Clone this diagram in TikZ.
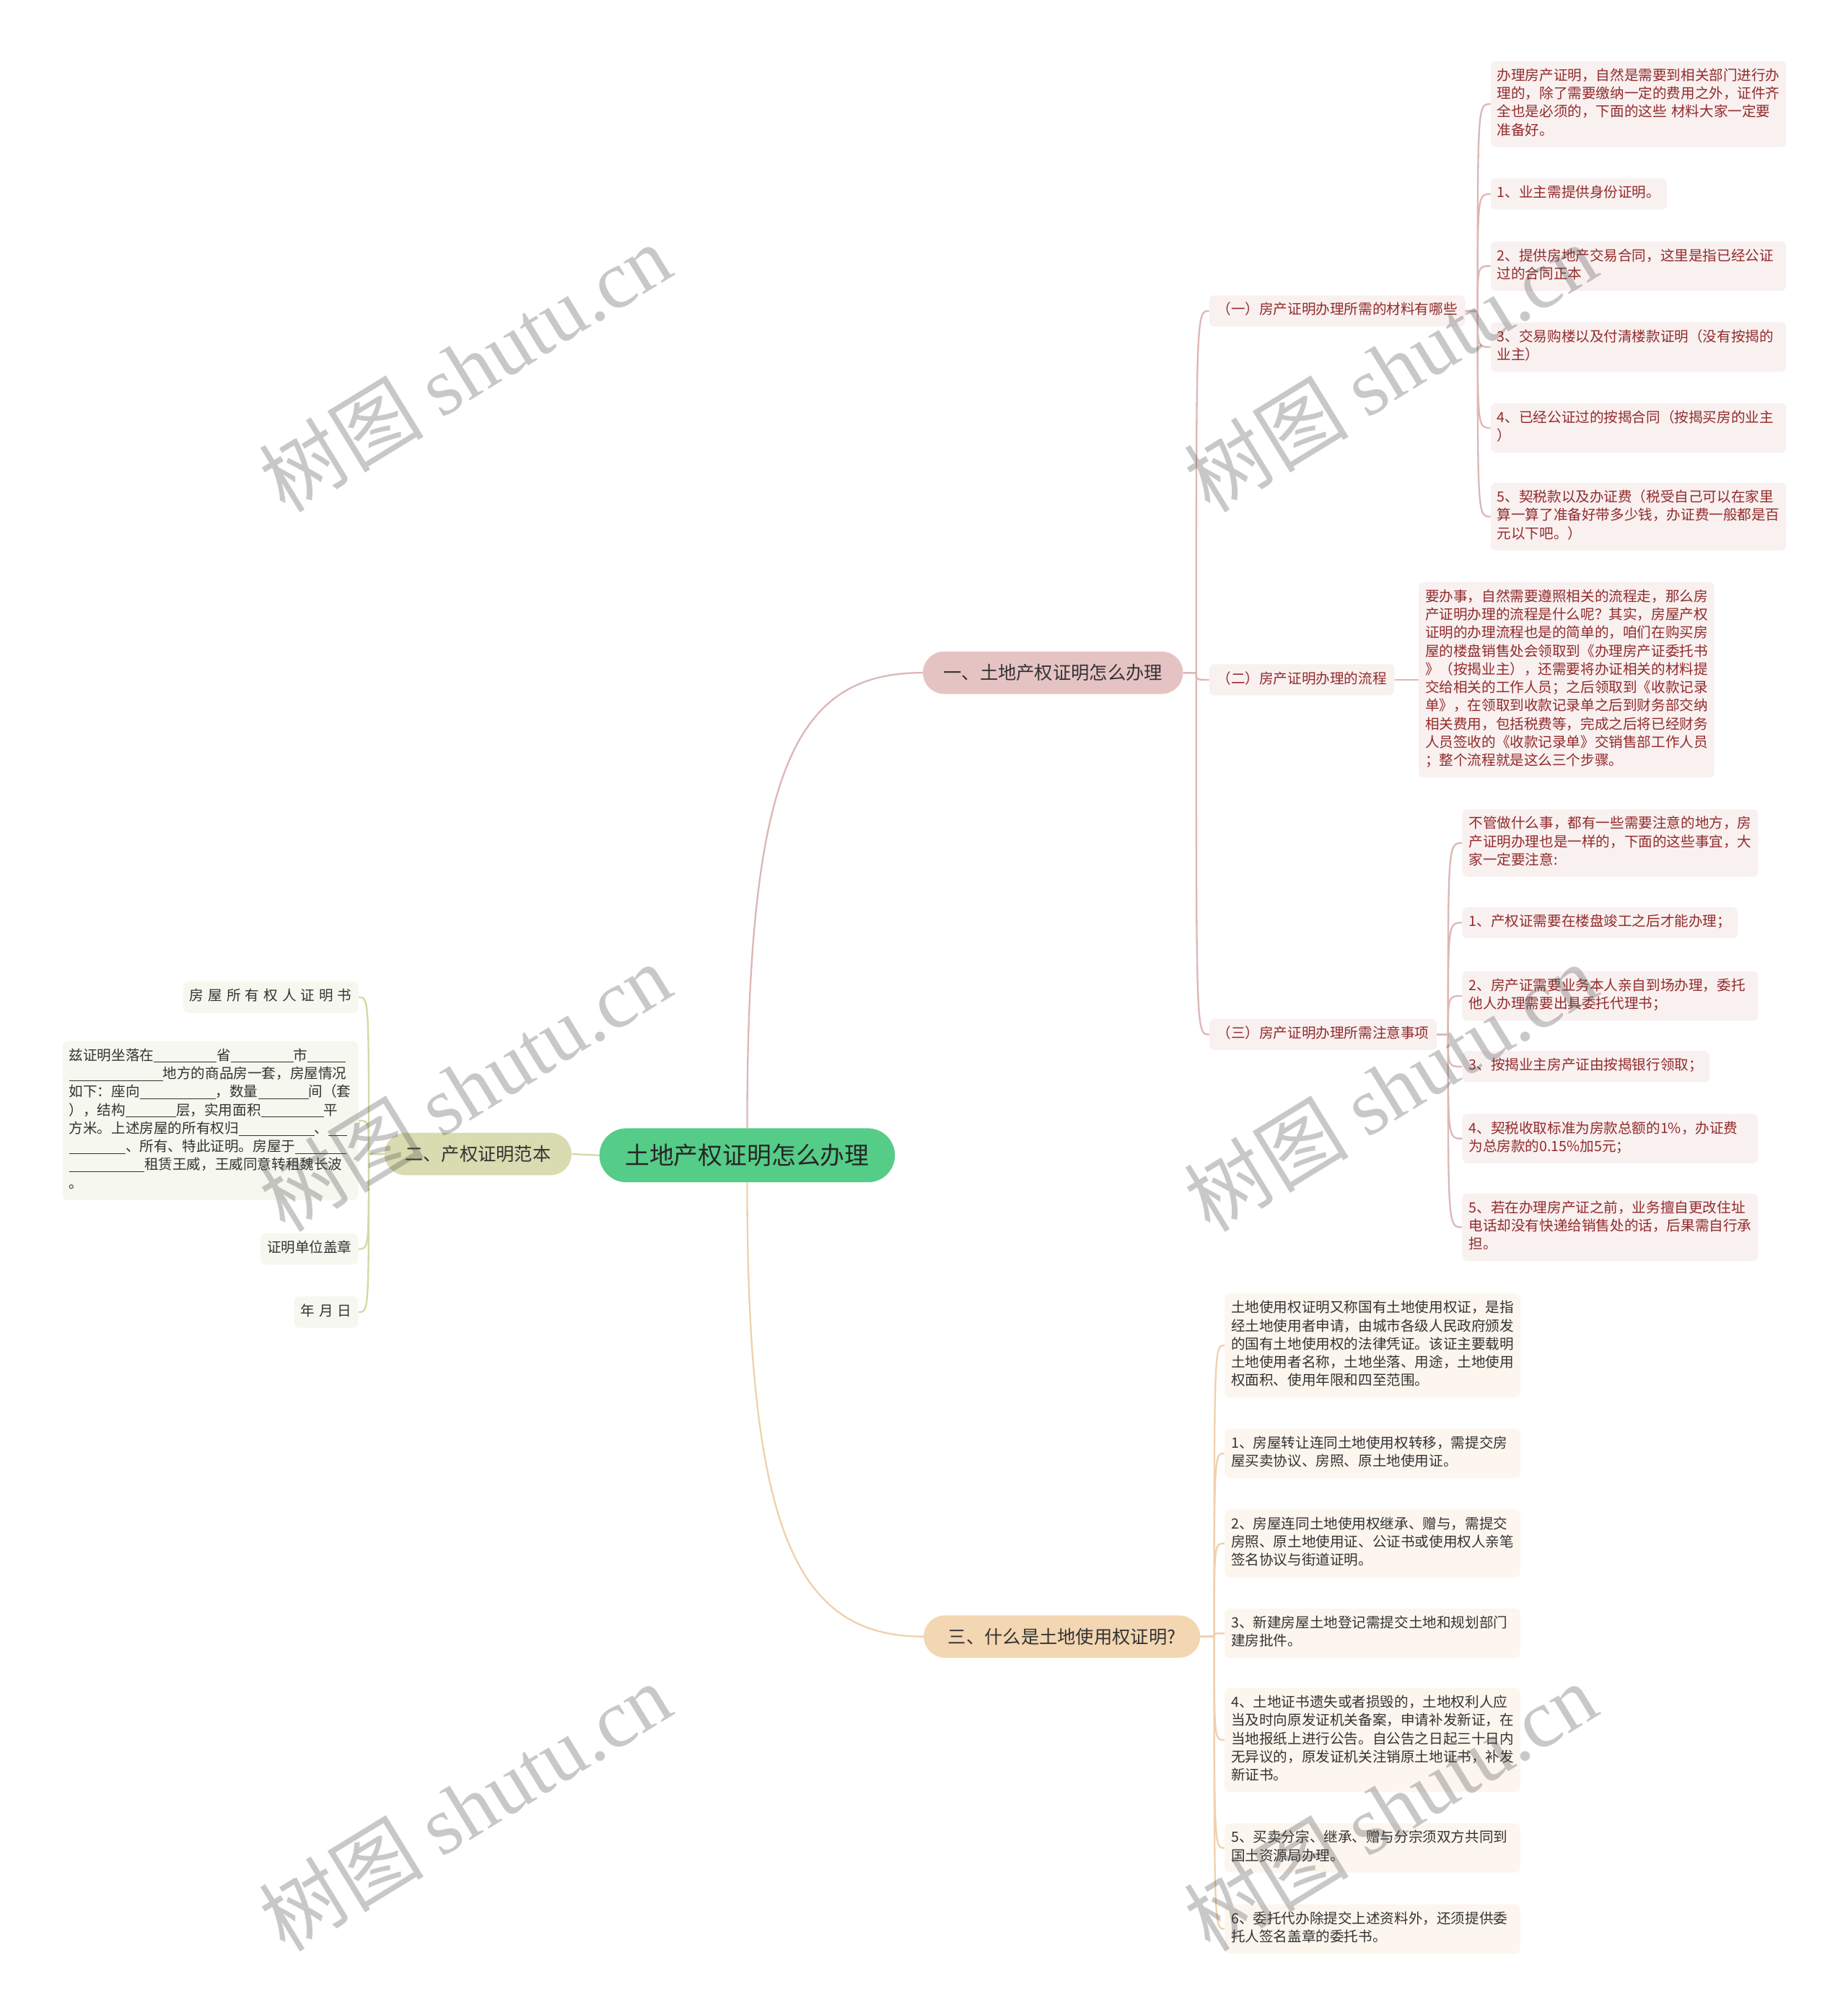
\documentclass[tikz,border=0pt]{standalone}
\usepackage{fontspec}
\setmainfont{Noto Sans CJK SC}
\newfontfamily\wmlatin{Liberation Serif}
\usetikzlibrary{calc}
\definecolor{rootg}{HTML}{55CC87}
\definecolor{bpink}{HTML}{E6C3C3}
\definecolor{bolive}{HTML}{D9DBB0}
\definecolor{bpeach}{HTML}{F3D6B2}
\definecolor{lpink}{HTML}{F9F0F0}
\definecolor{lolive}{HTML}{F6F7EE}
\definecolor{lpeach}{HTML}{FDF6EE}
\definecolor{redtxt}{HTML}{922B2B}
\definecolor{graytxt}{HTML}{333333}
\definecolor{cpink}{HTML}{DDB7B7}
\definecolor{colive}{HTML}{D5D8A5}
\definecolor{cpeach}{HTML}{EFD1AD}
\pgfdeclarelayer{bg}
\pgfsetlayers{bg,main}
\newcommand\mmlink[4]{\draw[lnk,#1] let \p1=(#2), \p2=(#4) in (\p1) -- (#3pt,\y1) .. controls (#3pt,\y2) .. (\p2);}
\newcommand\blk[1]{\rule[-1.8pt]{#1pt}{0.6pt}}
\tikzset{
  leafbase/.style={rounded corners=4pt, inner xsep=5pt, inner ysep=5pt, font=\fontsize{11}{14.2}\selectfont, execute at begin node=\strut, execute at end node=\strut},
  wide/.style={text width=220pt, align=left},
  pinkleaf/.style={leafbase, fill=lpink, text=redtxt, anchor=west},
  oliveleaf/.style={leafbase, fill=lolive, text=graytxt, anchor=east},
  peachleaf/.style={leafbase, fill=lpeach, text=graytxt, anchor=west},
  subnode/.style={leafbase, fill=lpink, text=redtxt, anchor=west, inner xsep=6pt},
  branch/.style={rounded corners=16.5pt, minimum height=33pt, inner xsep=16pt, inner ysep=0pt, font=\fontsize{14.2}{17}\selectfont, text=graytxt},
  rootnode/.style={fill=rootg, rounded corners=21pt, minimum height=42pt, inner xsep=20pt, inner ysep=0pt, font=\fontsize{19}{23}\selectfont, text=black!85},
  lnk/.style={line width=1.3pt},
  wm/.style={rotate=31.5, text=black!70, text opacity=0.3, font=\fontsize{64}{66}\selectfont},
}
\begin{document}
\begin{tikzpicture}[x=1pt,y=-1pt]
\useasboundingbox (0,0) rectangle (1438,1568);
\begin{pgfonlayer}{bg}
\fill[white] (0,0) rectangle (1438,1568);
\end{pgfonlayer}

% root and branches
\node[rootnode] (root) at (581.5,899) {土地产权证明怎么办理};
\node[branch,fill=bpink] (b1) at (819.5,523.5) {一、土地产权证明怎么办理};
\node[branch,fill=bolive] (b2) at (372,898) {二、产权证明范本};
\node[branch,fill=bpeach,inner xsep=19pt] (b3) at (826.5,1273.5) {三、什么是土地使用权证明?};

% subs of branch 1
\node[subnode] (s1) at (941,242) {（一）房产证明办理所需的材料有哪些};
\node[subnode] (s2) at (941,529) {（二）房产证明办理的流程};
\node[subnode] (s3) at (941,805) {（三）房产证明办理所需注意事项};

% leaves of s1
\node[pinkleaf,wide] (a1) at (1160,81) {办理房产证明，自然是需要到相关部门进行办\\理的，除了需要缴纳一定的费用之外，证件齐\\全也是必须的，下面的这些 材料大家一定要\\准备好。};
\node[pinkleaf] (a2) at (1160,151) {1、业主需提供身份证明。};
\node[pinkleaf,wide] (a3) at (1160,207) {2、提供房地产交易合同，这里是指已经公证\\过的合同正本};
\node[pinkleaf,wide] (a4) at (1160,270) {3、交易购楼以及付清楼款证明（没有按揭的\\业主）};
\node[pinkleaf,wide] (a5) at (1160,333) {4、已经公证过的按揭合同（按揭买房的业主\\）};
\node[pinkleaf,wide] (a6) at (1160,402) {5、契税款以及办证费（税受自己可以在家里\\算一算了准备好带多少钱，办证费一般都是百\\元以下吧。）};

% leaf of s2
\node[pinkleaf,wide] (q1) at (1104,529) {要办事，自然需要遵照相关的流程走，那么房\\产证明办理的流程是什么呢？其实，房屋产权\\证明的办理流程也是的简单的，咱们在购买房\\屋的楼盘销售处会领取到《办理房产证委托书\\》（按揭业主），还需要将办证相关的材料提\\交给相关的工作人员；之后领取到《收款记录\\单》，在领取到收款记录单之后到财务部交纳\\相关费用，包括税费等，完成之后将已经财务\\人员签收的《收款记录单》交销售部工作人员\\；整个流程就是这么三个步骤。};

% leaves of s3
\node[pinkleaf,wide] (m1) at (1138,656) {不管做什么事，都有一些需要注意的地方，房\\产证明办理也是一样的，下面的这些事宜，大\\家一定要注意:};
\node[pinkleaf] (m2) at (1138,718) {1、产权证需要在楼盘竣工之后才能办理；};
\node[pinkleaf,wide] (m3) at (1138,775) {2、房产证需要业务本人亲自到场办理，委托\\他人办理需要出具委托代理书；};
\node[pinkleaf] (m4) at (1138,830) {3、按揭业主房产证由按揭银行领取；};
\node[pinkleaf,wide] (m5) at (1138,886) {4、契税收取标准为房款总额的1\%，办证费\\为总房款的0.15\%加5元；};
\node[pinkleaf,wide] (m6) at (1138,955) {5、若在办理房产证之前，业务擅自更改住址\\电话却没有快递给销售处的话，后果需自行承\\担。};

% leaves of branch 2
\node[oliveleaf] (n1) at (279,776) {\spaceskip=3.4pt\relax 房 屋 所 有 权 人 证 明 书};
\node[oliveleaf,wide] (n2) at (279,872) {兹证明坐落在\blk{48.7}省\blk{49}市\blk{29.4}\\\blk{73}地方的商品房一套，房屋情况\\如下：座向\blk{59}，数量\blk{39.3}间（套\\），结构\blk{39.3}层，实用面积\blk{49}平\\方米。上述房屋的所有权归\blk{59}、\blk{14.6}\\\blk{44}、所有、特此证明。房屋于\blk{40}\\\blk{58.6}租赁王威，王威同意转租魏长波\\。};
\node[oliveleaf] (n3) at (279,972) {证明单位盖章};
\node[oliveleaf] (n4) at (279,1021) {\spaceskip=3.4pt\relax 年 月 日};

% leaves of branch 3
\node[peachleaf,wide] (p1) at (953,1047) {土地使用权证明又称国有土地使用权证，是指\\经土地使用者申请，由城市各级人民政府颁发\\的国有土地使用权的法律凭证。该证主要载明\\土地使用者名称，土地坐落、用途，土地使用\\权面积、使用年限和四至范围。};
\node[peachleaf,wide] (p2) at (953,1131) {1、房屋转让连同土地使用权转移，需提交房\\屋买卖协议、房照、原土地使用证。};
\node[peachleaf,wide] (p3) at (953,1201) {2、房屋连同土地使用权继承、赠与，需提交\\房照、原土地使用证、公证书或使用权人亲笔\\签名协议与街道证明。};
\node[peachleaf,wide] (p4) at (953,1271) {3、新建房屋土地登记需提交土地和规划部门\\建房批件。};
\node[peachleaf,wide] (p5) at (953,1354) {4、土地证书遗失或者损毁的，土地权利人应\\当及时向原发证机关备案，申请补发新证，在\\当地报纸上进行公告。自公告之日起三十日内\\无异议的，原发证机关注销原土地证书，补发\\新证书。};
\node[peachleaf,wide] (p6) at (953,1438) {5、买卖分宗、继承、赠与分宗须双方共同到\\国土资源局办理。};
\node[peachleaf,wide] (p7) at (953,1501) {6、委托代办除提交上述资料外，还须提供委\\托人签名盖章的委托书。};

% connectors
\begin{pgfonlayer}{bg}
\draw[lnk,cpink] (root.north) .. controls +(0,-278) and +(-100,0) .. (b1.west);
\draw[lnk,cpeach] (root.south) .. controls +(0,270) and +(-100,0) .. (b3.west);
\draw[lnk,colive] (root.west) -- (b2.east);
\mmlink{cpink}{b1.east}{931}{s1.west}
\mmlink{cpink}{b1.east}{931}{s2.west}
\mmlink{cpink}{b1.east}{931}{s3.west}
\mmlink{cpink}{s1.east}{1150}{a1.west}
\mmlink{cpink}{s1.east}{1150}{a2.west}
\mmlink{cpink}{s1.east}{1150}{a3.west}
\mmlink{cpink}{s1.east}{1150}{a4.west}
\mmlink{cpink}{s1.east}{1150}{a5.west}
\mmlink{cpink}{s1.east}{1150}{a6.west}
\draw[lnk,cpink] (s2.east) -- (q1.west);
\mmlink{cpink}{s3.east}{1127}{m1.west}
\mmlink{cpink}{s3.east}{1127}{m2.west}
\mmlink{cpink}{s3.east}{1127}{m3.west}
\mmlink{cpink}{s3.east}{1127}{m4.west}
\mmlink{cpink}{s3.east}{1127}{m5.west}
\mmlink{cpink}{s3.east}{1127}{m6.west}
\mmlink{colive}{b2.west}{287}{n1.east}
\mmlink{colive}{b2.west}{287}{n2.east}
\mmlink{colive}{b2.west}{287}{n3.east}
\mmlink{colive}{b2.west}{287}{n4.east}
\mmlink{cpeach}{b3.east}{945}{p1.west}
\mmlink{cpeach}{b3.east}{945}{p2.west}
\mmlink{cpeach}{b3.east}{945}{p3.west}
\mmlink{cpeach}{b3.east}{945}{p4.west}
\mmlink{cpeach}{b3.east}{945}{p5.west}
\mmlink{cpeach}{b3.east}{945}{p6.west}
\mmlink{cpeach}{b3.east}{945}{p7.west}
\end{pgfonlayer}

% watermarks
\node[wm] (w1) at (362,286) {树图 {\wmlatin shutu.cn}};
\node[wm] (w2) at (1082,286) {树图 {\wmlatin shutu.cn}};
\node[wm] (w3) at (362,846) {树图 {\wmlatin shutu.cn}};
\node[wm] (w4) at (1082,846) {树图 {\wmlatin shutu.cn}};
\node[wm] (w5) at (362,1406) {树图 {\wmlatin shutu.cn}};
\node[wm] (w6) at (1082,1406) {树图 {\wmlatin shutu.cn}};
\end{tikzpicture}
\end{document}
